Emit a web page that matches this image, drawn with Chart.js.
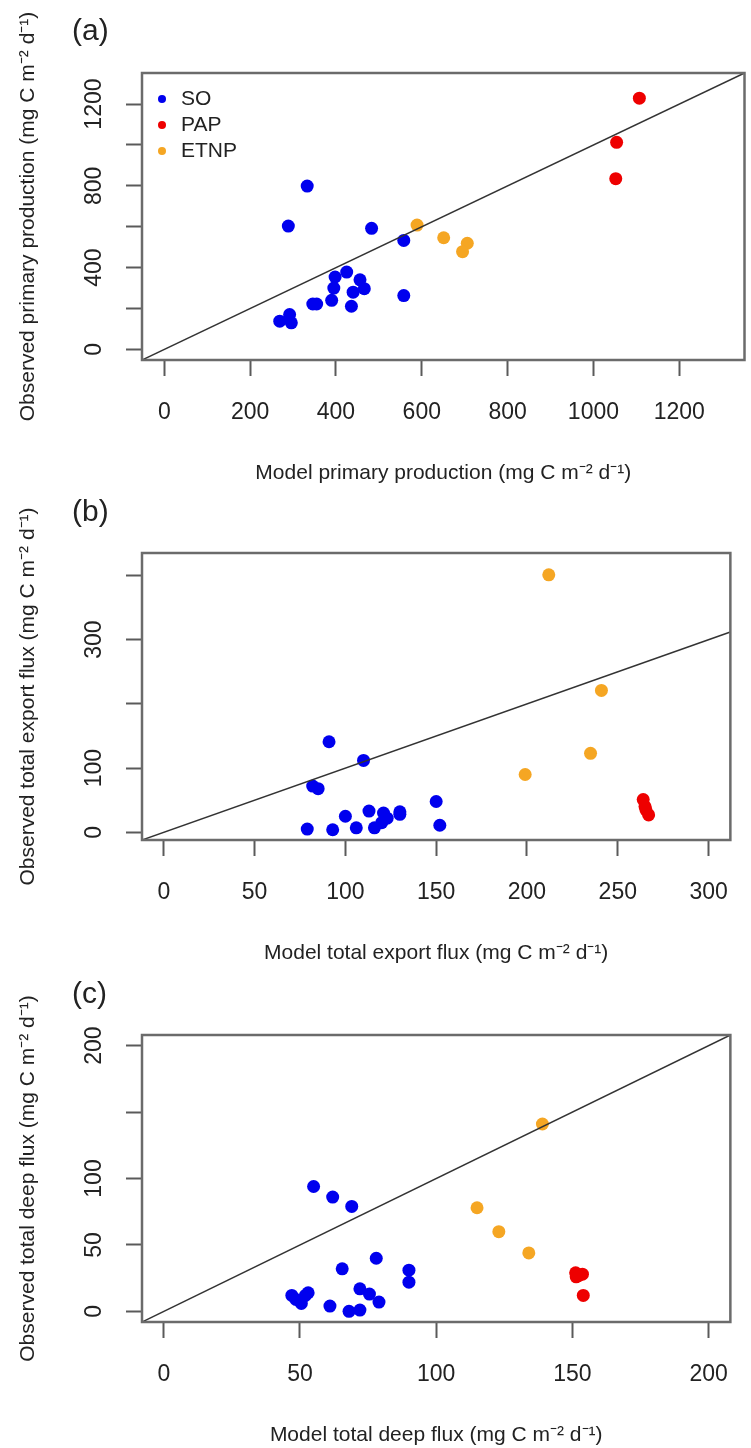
<!DOCTYPE html>
<html>
<head>
<meta charset="utf-8">
<title>Model vs observed carbon fluxes</title>
<script src="https://cdn.jsdelivr.net/npm/chart.js@4.4.1/dist/chart.umd.min.js"></script>
<style>
  html, body { margin: 0; padding: 0; background: #fff; }
  body { position: relative; width: 751px; height: 1448px; overflow: hidden; }
  .panel { position: absolute; left: 0; width: 751px; height: 500px; }
  .tag { position: absolute; left: 72px; font: 30px 'Liberation Sans', Arial, sans-serif; line-height: 30px; color: #222; }
</style>
</head>
<body>
<div class="panel" style="top:0px"><canvas id="ppChart" width="751" height="500"></canvas></div>
<div class="panel" style="top:480px"><canvas id="exportChart" width="751" height="500"></canvas></div>
<div class="panel" style="top:962px"><canvas id="deepChart" width="751" height="500"></canvas></div>
<div class="tag" style="top:15px">(a)</div>
<div class="tag" style="top:496px">(b)</div>
<div class="tag" style="top:978px">(c)</div>
<script>
// ========== DATA ==========
const siteNames = ['SO', 'PAP', 'ETNP'];
const siteColors = ['#0000ee', '#ee0000', '#f5a623'];

// (a) primary production
const soModelPP = [333, 289, 483, 558, 558, 425, 398, 395, 456, 466, 440, 390, 436, 346, 355, 292, 269, 296];
const soObsPP = [799, 603, 592, 533, 263, 378, 354, 300, 340, 297, 280, 240, 211, 222, 222, 170, 138, 130];
const papModelPP = [1107, 1054, 1052];
const papObsPP = [1229, 1013, 835];
const etnpModelPP = [589, 651, 706, 695];
const etnpObsPP = [608, 546, 519, 478];

// (b) total export flux
const soModelEx = [91, 110, 82, 85, 150, 152, 79, 93, 106, 116, 100, 113, 121, 123, 120, 130, 130];
const soObsEx = [141, 112, 72, 68, 48, 11, 5, 4, 7, 7, 25, 33, 30, 22, 15, 32, 28];
const papModelEx = [264, 265, 265.5, 267];
const papObsEx = [51, 40, 35, 27];
const etnpModelEx = [212, 241, 235, 199];
const etnpObsEx = [401, 221, 123, 90];

// (c) total deep flux
const soModelDeep = [55, 62, 69, 78, 65.5, 90, 90, 53, 52, 47, 48.5, 50.5, 61, 68, 72, 72, 75.5, 79];
const soObsDeep = [94, 86, 79, 40, 32, 31, 22, 14, 12, 12, 9, 6, 4, 0, 1, 17, 13, 7];
const papModelDeep = [151.2, 153.7, 151.4, 152.4, 154];
const papObsDeep = [29, 28, 26, 27, 12];
const etnpModelDeep = [139, 115, 123, 134];
const etnpObsDeep = [141, 78, 60, 44];

// ticks and axis limits
const ppTicks = [0, 200, 400, 600, 800, 1000, 1200];
const ppYLabels = [0, 400, 800, 1200];
const ppLimits = [-52, 1352];

const exXTicks = [0, 50, 100, 150, 200, 250, 300];
const exYTicks = [0, 100, 200, 300, 400];
const exYLabels = [0, 100, 300];
const exXLimits = [-12, 312];
const exYLimits = [-12, 435];

const deepTicks = [0, 50, 100, 150, 200];
const deepYLabels = [0, 50, 100, 200];
const deepLimits = [-8, 208];

// ========== STYLE ==========
const FONT = "'Liberation Sans', Arial, Helvetica, sans-serif";
const TICK_SIZE = 23;
const TITLE_SIZE = 21;
const TICK_LEN = 16;
const TEXT_COLOR = '#222';

const toPoints = (xs, ys) => xs.map((x, i) => ({ x: x, y: ys[i] }));

// rotated y labels are centred on (axis right - tick - padding - widest/2)
function yTickPadding(labels) {
  const ctx = document.createElement('canvas').getContext('2d');
  ctx.font = TICK_SIZE + 'px ' + FONT;
  const widest = Math.max(...labels.map(l => ctx.measureText(String(l)).width));
  return 47 - TICK_LEN - widest / 2;
}

// ========== PLUGINS ==========
const frameBox = {
  id: 'frameBox',
  afterDraw(chart) {
    const { ctx, chartArea: a } = chart;
    ctx.save();
    ctx.strokeStyle = '#6b6b6b';
    ctx.lineWidth = 2.5;
    ctx.strokeRect(a.left, a.top, a.right - a.left, a.bottom - a.top);
    ctx.restore();
  }
};

const insetLegend = {
  id: 'insetLegend',
  afterDraw(chart, args, opts) {
    if (!opts || !opts.display) return;
    const { ctx, chartArea: a } = chart;
    ctx.save();
    ctx.font = TITLE_SIZE + 'px ' + FONT;
    ctx.textBaseline = 'middle';
    let row = 0;
    chart.data.datasets.forEach(ds => {
      if (!ds.label) return;
      const y = a.top + 26 * (row + 1);
      ctx.fillStyle = ds.backgroundColor;
      ctx.beginPath();
      ctx.arc(a.left + 20, y, 4, 0, Math.PI * 2);
      ctx.fill();
      ctx.fillStyle = TEXT_COLOR;
      ctx.fillText(ds.label, a.left + 39, y);
      row++;
    });
    ctx.restore();
  }
};

// ========== PANEL BUILDER ==========
function siteDataset(i, xs, ys) {
  return {
    label: siteNames[i],
    data: toPoints(xs, ys),
    backgroundColor: siteColors[i],
    borderWidth: 0,
    pointRadius: 6.5,
    pointHoverRadius: 6.5,
    order: 1
  };
}

function makePanel(canvasId, p) {
  const lineEnd = Math.min(p.xLim[1], p.yLim[1]);
  const lineStart = Math.max(p.xLim[0], p.yLim[0]);
  return new Chart(document.getElementById(canvasId), {
    type: 'scatter',
    data: {
      datasets: [
        {
          label: '',
          data: [{ x: lineStart, y: lineStart }, { x: lineEnd, y: lineEnd }],
          showLine: true,
          borderColor: '#333',
          borderWidth: 1.5,
          pointRadius: 0,
          order: 0
        },
        siteDataset(0, p.so[0], p.so[1]),
        siteDataset(1, p.pap[0], p.pap[1]),
        siteDataset(2, p.etnp[0], p.etnp[1])
      ]
    },
    options: {
      responsive: false,
      animation: false,
      events: [],
      layout: { padding: { top: 73, left: 0, right: 2, bottom: 10 } },
      plugins: {
        legend: { display: false },
        tooltip: { enabled: false },
        insetLegend: { display: !!p.legend }
      },
      scales: {
        x: {
          type: 'linear',
          min: p.xLim[0],
          max: p.xLim[1],
          afterBuildTicks: s => { s.ticks = p.xTicks.map(v => ({ value: v })); },
          afterFit: s => { s.height = 130; },
          grid: { drawOnChartArea: false, drawTicks: true, tickLength: TICK_LEN, tickWidth: 2, tickColor: '#5a5a5a' },
          border: { display: false },
          ticks: {
            autoSkip: false,
            maxRotation: 0,
            padding: 23,
            color: TEXT_COLOR,
            font: { size: TICK_SIZE, family: FONT },
            callback: v => String(v)
          },
          title: {
            display: true,
            text: p.xTitle,
            color: TEXT_COLOR,
            font: { size: TITLE_SIZE, family: FONT },
            padding: { top: 0, bottom: 4 }
          }
        },
        y: {
          type: 'linear',
          min: p.yLim[0],
          max: p.yLim[1],
          afterBuildTicks: s => { s.ticks = p.yTicks.map(v => ({ value: v })); },
          afterFit: s => { s.width = 142; },
          grid: { drawOnChartArea: false, drawTicks: true, tickLength: TICK_LEN, tickWidth: 2, tickColor: '#5a5a5a' },
          border: { display: false },
          ticks: {
            autoSkip: false,
            minRotation: 90,
            maxRotation: 90,
            crossAlign: 'center',
            padding: yTickPadding(p.yLabels),
            color: TEXT_COLOR,
            font: { size: TICK_SIZE, family: FONT },
            callback: v => (p.yLabels.includes(v) ? String(v) : '')
          },
          title: {
            display: true,
            text: p.yTitle,
            color: TEXT_COLOR,
            font: { size: TITLE_SIZE, family: FONT },
            padding: { top: 16, bottom: 0 }
          }
        }
      }
    },
    plugins: [frameBox, insetLegend]
  });
}

// ========== PANELS ==========
makePanel('ppChart', {
  so: [soModelPP, soObsPP], pap: [papModelPP, papObsPP], etnp: [etnpModelPP, etnpObsPP],
  xLim: ppLimits, yLim: ppLimits, xTicks: ppTicks, yTicks: ppTicks, yLabels: ppYLabels,
  xTitle: 'Model primary production (mg C m\u207B\u00B2 d\u207B\u00B9)',
  yTitle: 'Observed primary production (mg C m\u207B\u00B2 d\u207B\u00B9)',
  legend: true
});

makePanel('exportChart', {
  so: [soModelEx, soObsEx], pap: [papModelEx, papObsEx], etnp: [etnpModelEx, etnpObsEx],
  xLim: exXLimits, yLim: exYLimits, xTicks: exXTicks, yTicks: exYTicks, yLabels: exYLabels,
  xTitle: 'Model total export flux (mg C m\u207B\u00B2 d\u207B\u00B9)',
  yTitle: 'Observed total export flux (mg C m\u207B\u00B2 d\u207B\u00B9)'
});

makePanel('deepChart', {
  so: [soModelDeep, soObsDeep], pap: [papModelDeep, papObsDeep], etnp: [etnpModelDeep, etnpObsDeep],
  xLim: deepLimits, yLim: deepLimits, xTicks: deepTicks, yTicks: deepTicks, yLabels: deepYLabels,
  xTitle: 'Model total deep flux (mg C m\u207B\u00B2 d\u207B\u00B9)',
  yTitle: 'Observed total deep flux (mg C m\u207B\u00B2 d\u207B\u00B9)'
});
</script>
</body>
</html>
